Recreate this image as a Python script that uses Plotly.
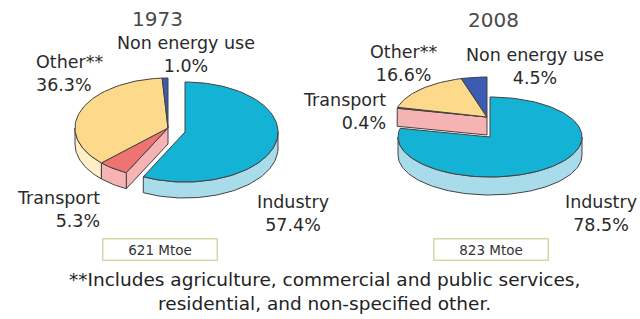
import math
import plotly.graph_objects as go

# ---------------- data ----------------
CATEGORIES = ["Industry", "Transport", "Other**", "Non energy use"]
SHARE_1973 = [57.4, 5.3, 36.3, 1.0]
SHARE_2008 = [78.5, 0.4, 16.6, 4.5]
YEARS = ["1973", "2008"]
TOTAL_MTOE = [621, 823]
FOOTNOTE = ["**Includes agriculture, commercial and public services,",
            "residential, and non-specified other."]

# ---------------- style ----------------
TOP_COLORS = ["#14b2d4", "#ef7373", "#fdd98c", "#3b5cb0"]
SIDE_COLORS = ["#a9dcea", "#f6b3b3", "#fdf0c8", "#8ea2d8"]
EDGE = "#454040"
FONT = "DejaVu Sans"

PIES = [
    dict(cx=168, cy=128, rx=93, ry=50, depth=16,
         offsets=[(17, 4), (0, 0), (0, 0), (0, 0)]),
    dict(cx=490, cy=137, rx=92, ry=40, depth=18,
         offsets=[(0, 0), (-3, -20), (-3, -20), (-3, -20)]),
]

LABELS = [
    # (x, y, xanchor, align) per category for each pie
    [(293, 213, "center", "center"), (102, 209, "right", "right"),
     (34, 73, "left", "left"), (186, 54, "center", "center")],
    [(639, 213, "right", "center"), (388, 111, "right", "right"),
     (403, 63, "center", "center"), (535, 66, "center", "center")],
]
TITLE_POS = [(157, 19), (493, 20)]
BOX_POS = [(160, 249), (491, 249)]


def point(p, off, th, dy=0.0):
    r = math.radians(th)
    return (p["cx"] + off[0] + p["rx"] * math.sin(r),
            p["cy"] + off[1] - p["ry"] * math.cos(r) + dy)


def arc(p, off, a, b, dy=0.0):
    n = max(2, int(abs(b - a) / 2) + 2)
    return [point(p, off, a + (b - a) * k / (n - 1), dy) for k in range(n)]


fig = go.Figure()
walls = []
tops = []

for pi, (p, shares) in enumerate(zip(PIES, [SHARE_1973, SHARE_2008])):
    total = sum(shares)
    angles = [0.0]
    for s in shares:
        angles.append(angles[-1] + 360.0 * s / total)
    nsl = len(shares)
    for i in range(nsl):
        a, b = angles[i], angles[i + 1]
        off = p["offsets"][i]
        d = p["depth"]
        apex = (p["cx"] + off[0], p["cy"] + off[1])
        # outer (front) side wall
        t1, t2 = max(a, 90.0), min(b, 270.0)
        if t2 > t1:
            poly = arc(p, off, t1, t2) + arc(p, off, t2, t1, d)
            walls.append((poly, SIDE_COLORS[i]))
        # radial walls where neighbour is displaced differently
        prev_off = p["offsets"][(i - 1) % nsl]
        next_off = p["offsets"][(i + 1) % nsl]
        if prev_off != off and math.sin(math.radians(a)) < -1e-6:
            r1 = point(p, off, a)
            poly = [apex, r1, (r1[0], r1[1] + d), (apex[0], apex[1] + d)]
            walls.append((poly, SIDE_COLORS[i]))
        if next_off != off and math.sin(math.radians(b)) > 1e-6:
            r1 = point(p, off, b)
            poly = [apex, r1, (r1[0], r1[1] + d), (apex[0], apex[1] + d)]
            walls.append((poly, SIDE_COLORS[i]))
        # top face
        tops.append(([apex] + arc(p, off, a, b), TOP_COLORS[i]))

walls.sort(key=lambda w: sum(q[1] for q in w[0]) / len(w[0]))

for poly, col in walls + tops:
    xs = [q[0] for q in poly] + [poly[0][0]]
    ys = [q[1] for q in poly] + [poly[0][1]]
    fig.add_trace(go.Scatter(x=xs, y=ys, mode="lines", fill="toself",
                             fillcolor=col, line=dict(color=EDGE, width=1),
                             hoverinfo="skip", showlegend=False))

annotations = []
for pi, shares in enumerate([SHARE_1973, SHARE_2008]):
    for i, (cat, val) in enumerate(zip(CATEGORIES, shares)):
        x, y, xa, al = LABELS[pi][i]
        annotations.append(dict(x=x, y=y, xref="x", yref="y",
                                text=f"{cat}<br>{val:.1f}%", showarrow=False,
                                xanchor=xa, yanchor="middle", align=al,
                                font=dict(family=FONT, size=17.5, color="#2a2a2a")))
    tx, ty = TITLE_POS[pi]
    annotations.append(dict(x=tx, y=ty, xref="x", yref="y", text=YEARS[pi],
                            showarrow=False, xanchor="center", yanchor="middle",
                            font=dict(family=FONT, size=20, color="#4a4a4a")))
    bx, by = BOX_POS[pi]
    annotations.append(dict(x=bx, y=by, xref="x", yref="y",
                            text=f"{TOTAL_MTOE[pi]} Mtoe",
                            showarrow=False, xanchor="center", yanchor="middle",
                            width=111, height=18, bordercolor="#cfdba6",
                            borderwidth=1.5, bgcolor="white",
                            font=dict(family=FONT, size=13.5, color="#333333")))

annotations.append(dict(x=324, y=291, xref="x", yref="y",
                        text="<br>".join(FOOTNOTE), showarrow=False,
                        xanchor="center", yanchor="middle", align="center",
                        font=dict(family=FONT, size=18.5, color="#222222")))

fig.update_layout(
    width=640, height=319,
    margin=dict(l=0, r=0, t=0, b=0),
    paper_bgcolor="white", plot_bgcolor="white",
    xaxis=dict(range=[0, 640], visible=False, fixedrange=True),
    yaxis=dict(range=[319, 0], visible=False, fixedrange=True),
    annotations=annotations,
    showlegend=False,
)

fig.write_html("out.html",
               config={"displayModeBar": False, "staticPlot": True},
               post_script="document.body.style.margin='0';"
                           "document.body.style.overflow='hidden';")
